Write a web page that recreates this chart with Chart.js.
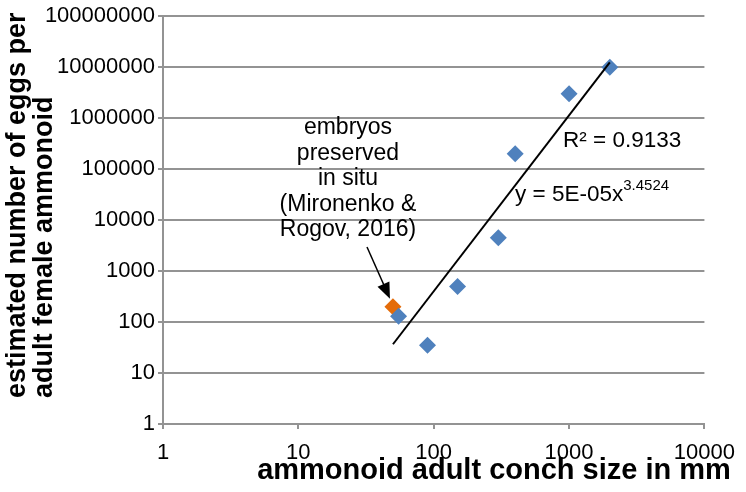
<!DOCTYPE html>
<html>
<head>
<meta charset="utf-8">
<script src="https://cdn.jsdelivr.net/npm/chart.js@4"></script>
<style>
  html, body { margin: 0; padding: 0; background: #fff; }
</style>
</head>
<body>
<canvas id="chart" width="746" height="492"></canvas>
<script>
// conch size (mm) vs estimated eggs per adult female
const conchSize = [55, 90, 150, 300, 400, 1000, 2000];
const eggCount = [130, 35, 500, 4500, 200000, 3000000, 10000000];
// embryos preserved in situ
const embryoSize = [50];
const embryoEggs = [200];
// power trendline y = a * x^b over the data range
const trendA = 5e-5;
const trendB = 3.4524;
const trendRange = [50, 2000];

const xTicks = [1, 10, 100, 1000, 10000];
const yTicks = [1, 10, 100, 1000, 10000, 100000, 1000000, 10000000, 100000000];

const noteLines = ["embryos", "preserved", "in situ", "(Mironenko &", "Rogov, 2016)"];
const xTitle = "ammonoid adult conch size in mm";
const yTitle = ["estimated number of eggs per", "adult female ammonoid"];

const FONT = '"Liberation Sans", Arial, sans-serif';
const GRID = "#939393";

const toPoints = (xs, ys) => xs.map((x, i) => ({ x: x, y: ys[i] }));

const annotations = {
    id: "annotations",
    afterDraw(chart) {
        const ctx = chart.ctx;
        const sx = chart.scales.x, sy = chart.scales.y;
        ctx.save();
        ctx.fillStyle = "#000";
        ctx.textBaseline = "middle";

        // note text
        ctx.font = "23px " + FONT;
        ctx.textAlign = "center";
        noteLines.forEach((t, i) => ctx.fillText(t, 348, 128 + i * 25.5));

        // arrow to the orange point
        const px = sx.getPixelForValue(embryoSize[0]);
        const py = sy.getPixelForValue(embryoEggs[0]);
        const tipX = px - 3, tipY = py - 8;
        const fromX = 367, fromY = 247;
        const ang = Math.atan2(tipY - fromY, tipX - fromX);
        ctx.strokeStyle = "#000";
        ctx.lineWidth = 1.5;
        ctx.beginPath();
        ctx.moveTo(fromX, fromY);
        ctx.lineTo(tipX - 10 * Math.cos(ang), tipY - 10 * Math.sin(ang));
        ctx.stroke();
        ctx.beginPath();
        ctx.moveTo(tipX, tipY);
        ctx.lineTo(tipX - 16 * Math.cos(ang) + 6.5 * Math.sin(ang), tipY - 16 * Math.sin(ang) - 6.5 * Math.cos(ang));
        ctx.lineTo(tipX - 16 * Math.cos(ang) - 6.5 * Math.sin(ang), tipY - 16 * Math.sin(ang) + 6.5 * Math.cos(ang));
        ctx.closePath();
        ctx.fill();

        // trendline labels
        ctx.textAlign = "left";
        ctx.font = "22.5px " + FONT;
        ctx.fillText("R² = 0.9133", 563, 141);
        const eq = "y = 5E-05x";
        ctx.fillText(eq, 515, 195);
        const w = ctx.measureText(eq).width;
        ctx.font = "15px " + FONT;
        ctx.fillText(String(trendB), 515 + w, 186);

        // axis titles
        ctx.font = "bold 29px " + FONT;
        ctx.textAlign = "center";
        ctx.fillText(xTitle, 494, 471);

        ctx.font = "bold 27px " + FONT;
        ctx.textAlign = "left";
        ctx.translate(0, 398);
        ctx.rotate(-Math.PI / 2);
        ctx.fillText(yTitle[0], 0, 18);
        ctx.fillText(yTitle[1], 0, 45);
        ctx.restore();
    }
};

new Chart(document.getElementById("chart"), {
    type: "scatter",
    data: {
        datasets: [{
            label: "Power trend",
            data: trendRange.map(x => ({ x: x, y: trendA * Math.pow(x, trendB) })),
            showLine: true,
            borderColor: "#000",
            borderWidth: 2,
            pointRadius: 0
        }, {
            label: "Ammonoids",
            data: toPoints(conchSize, eggCount),
            pointStyle: "rectRot",
            pointRadius: 8.5,
            pointBorderWidth: 0,
            backgroundColor: "#4F81BD",
            borderColor: "#4F81BD"
        }, {
            label: "Embryos in situ",
            data: toPoints(embryoSize, embryoEggs),
            pointStyle: "rectRot",
            pointRadius: 8.5,
            pointBorderWidth: 0,
            backgroundColor: "#E46C0A",
            borderColor: "#E46C0A"
        }]
    },
    options: {
        responsive: false,
        animation: false,
        layout: { padding: { top: 11, right: 40, left: 0, bottom: 0 } },
        plugins: {
            legend: { display: false },
            tooltip: { enabled: false }
        },
        scales: {
            x: {
                type: "logarithmic",
                min: 1,
                max: 10000,
                afterBuildTicks: s => { s.ticks = xTicks.map(v => ({ value: v })); },
                afterFit: s => { s.height = 68; },
                ticks: {
                    autoSkip: false,
                    maxRotation: 0,
                    padding: 11,
                    color: "#000",
                    font: { family: FONT, size: 22 },
                    callback: v => String(v)
                },
                grid: { drawOnChartArea: false, color: GRID, lineWidth: 2, tickLength: 5 },
                border: { color: GRID, width: 2 }
            },
            y: {
                type: "logarithmic",
                min: 1,
                max: 100000000,
                afterBuildTicks: s => { s.ticks = yTicks.map(v => ({ value: v })); },
                afterFit: s => { s.width = 163; },
                ticks: {
                    autoSkip: false,
                    padding: 3,
                    color: "#000",
                    font: { family: FONT, size: 22 },
                    callback: v => String(v)
                },
                grid: { color: GRID, lineWidth: 2, tickLength: 5 },
                border: { color: GRID, width: 2 }
            }
        }
    },
    plugins: [annotations]
});
</script>
</body>
</html>
